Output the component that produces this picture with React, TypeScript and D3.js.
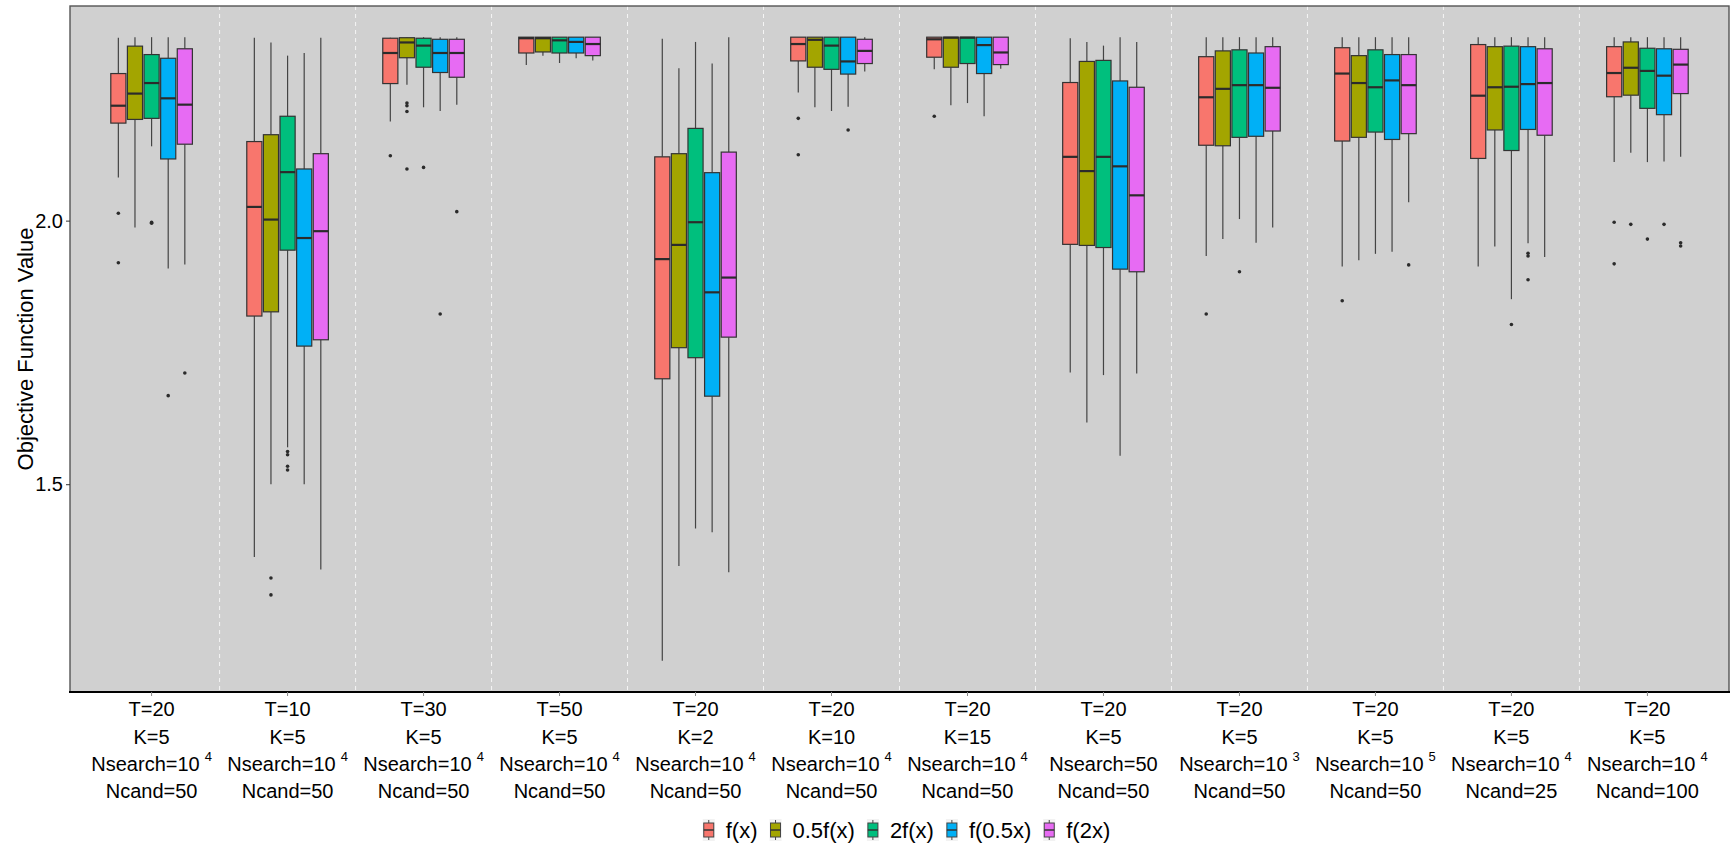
import { useEffect, useRef } from 'react'
import * as d3 from 'd3'

// x-axis groups (one per settings combination)
const groupT = [20, 10, 30, 50, 20, 20, 20, 20, 20, 20, 20, 20]
const groupK = [5, 5, 5, 5, 2, 10, 15, 5, 5, 5, 5, 5]
const nsearchBase = ['10', '10', '10', '10', '10', '10', '10', '50', '10', '10', '10', '10']
const nsearchExp = ['4', '4', '4', '4', '4', '4', '4', '', '3', '5', '4', '4']
const groupNcand = [50, 50, 50, 50, 50, 50, 50, 50, 50, 50, 25, 100]

const seriesNames = ['f(x)', '0.5f(x)', '2f(x)', 'f(0.5x)', 'f(2x)']
const seriesColors = ['#F8766D', '#A3A500', '#00BF7D', '#00B0F6', '#E76BF3']

const yTicks = [1.5, 2.0]

// box stats per group: [lower whisker, q1, median, q3, upper whisker]
const fxStats = [
  [2.082, 2.185, 2.218, 2.279, 2.347], [1.362, 1.819, 2.026, 2.150, 2.347], [2.188, 2.260, 2.318, 2.346, 2.347],
  [2.295, 2.318, 2.346, 2.348, 2.348], [1.165, 1.700, 1.927, 2.121, 2.345], [2.243, 2.303, 2.335, 2.348, 2.348],
  [2.287, 2.310, 2.344, 2.348, 2.348], [1.712, 1.955, 2.121, 2.262, 2.346], [1.933, 2.143, 2.234, 2.311, 2.348],
  [1.913, 2.151, 2.279, 2.328, 2.348], [1.913, 2.118, 2.237, 2.334, 2.348], [2.111, 2.235, 2.280, 2.330, 2.348],
]
const fxOut = [[2.014, 1.920], [], [2.123], [], [], [2.194, 2.125], [2.198], [], [1.823], [1.848], [], [1.997, 1.918]]

const halfFxStats = [
  [1.987, 2.192, 2.241, 2.331, 2.348], [1.500, 1.827, 2.002, 2.163, 2.338], [2.258, 2.309, 2.338, 2.347, 2.348],
  [2.313, 2.320, 2.346, 2.348, 2.348], [1.345, 1.759, 1.954, 2.127, 2.289], [2.215, 2.291, 2.343, 2.348, 2.348],
  [2.219, 2.291, 2.347, 2.348, 2.348], [1.617, 1.953, 2.094, 2.302, 2.339], [1.965, 2.142, 2.250, 2.322, 2.348],
  [1.925, 2.158, 2.261, 2.313, 2.348], [1.951, 2.172, 2.253, 2.330, 2.348], [2.129, 2.238, 2.290, 2.339, 2.348],
]
const halfFxOut = [[], [1.322, 1.290], [2.223, 2.218, 2.207, 2.098], [], [], [], [], [], [], [], [], [1.993]]

const twoFxStats = [
  [2.141, 2.194, 2.261, 2.315, 2.348], [1.570, 1.944, 2.092, 2.198, 2.313], [2.215, 2.291, 2.332, 2.346, 2.348],
  [2.299, 2.318, 2.342, 2.348, 2.348], [1.416, 1.740, 1.997, 2.175, 2.339], [2.208, 2.287, 2.332, 2.348, 2.348],
  [2.223, 2.298, 2.347, 2.348, 2.348], [1.707, 1.949, 2.121, 2.304, 2.332], [2.003, 2.158, 2.257, 2.324, 2.348],
  [1.937, 2.168, 2.253, 2.324, 2.348], [1.851, 2.133, 2.254, 2.331, 2.348], [2.111, 2.213, 2.284, 2.327, 2.348],
]
const twoFxOut = [[1.997, 1.995], [1.562, 1.556, 1.534, 1.527], [2.101], [], [], [], [], [], [1.903], [], [1.803], [1.965]]

const fHalfXStats = [
  [1.909, 2.117, 2.232, 2.308, 2.348], [1.500, 1.762, 1.967, 2.098, 2.318], [2.208, 2.281, 2.318, 2.344, 2.348],
  [2.308, 2.318, 2.339, 2.348, 2.348], [1.409, 1.667, 1.864, 2.091, 2.298], [2.216, 2.278, 2.302, 2.348, 2.348],
  [2.198, 2.279, 2.333, 2.348, 2.348], [1.554, 1.908, 2.103, 2.265, 2.348], [1.958, 2.160, 2.257, 2.318, 2.348],
  [1.941, 2.154, 2.266, 2.315, 2.348], [1.957, 2.173, 2.259, 2.330, 2.348], [2.112, 2.201, 2.275, 2.326, 2.348],
]
const fHalfXOut = [[1.668], [], [1.823], [], [], [2.172], [], [], [], [], [1.938, 1.933, 1.888], [1.993]]

const fTwoXStats = [
  [1.917, 2.145, 2.220, 2.326, 2.348], [1.338, 1.774, 1.980, 2.127, 2.347], [2.220, 2.272, 2.318, 2.344, 2.348],
  [2.304, 2.313, 2.335, 2.348, 2.348], [1.333, 1.779, 1.892, 2.130, 2.348], [2.283, 2.298, 2.322, 2.344, 2.348],
  [2.288, 2.296, 2.319, 2.348, 2.348], [1.710, 1.903, 2.048, 2.253, 2.339], [1.987, 2.170, 2.252, 2.330, 2.348],
  [2.035, 2.165, 2.257, 2.315, 2.348], [1.931, 2.162, 2.261, 2.326, 2.348], [2.121, 2.241, 2.296, 2.325, 2.348],
]
const fTwoXOut = [[1.711], [], [2.017], [], [], [], [], [], [], [1.916], [], [1.958, 1.952]]

const allStats = [fxStats, halfFxStats, twoFxStats, fHalfXStats, fTwoXStats]
const allOut = [fxOut, halfFxOut, twoFxOut, fHalfXOut, fTwoXOut]

const FONT = '"Liberation Sans", Arial, sans-serif'

function App() {
  const ref = useRef<SVGSVGElement>(null)

  useEffect(() => {
    const width = 1731, height = 850
    const left = 70, right = 1729, top = 6, bottom = 692

    const svg = d3.select(ref.current)
    svg.selectAll('*').remove()
    svg.attr('width', width).attr('height', height)

    // data range with ggplot-like 5% expansion
    const vals: number[] = []
    allStats.forEach(s => s.forEach(b => vals.push(b[0], b[4])))
    allOut.forEach(s => s.forEach(o => vals.push(...o)))
    const [mn, mx] = d3.extent(vals) as [number, number]
    const pad = (mx - mn) * 0.05

    const y = d3.scaleLinear().domain([mn - pad, mx + pad]).range([bottom, top])
    const groups = d3.range(groupT.length)
    const x = d3.scaleBand<number>().domain(groups).range([left, right]).paddingInner(0).paddingOuter(0.1)
    const step = x.step()
    const xs = d3.scaleBand<string>().domain(seriesNames).range([-0.3 * step, 0.3 * step]).paddingInner(0.09)
    const cx = (i: number) => (x(i) as number) + x.bandwidth() / 2

    // panel
    svg.append('rect')
      .attr('x', left).attr('y', top).attr('width', right - left).attr('height', bottom - top)
      .attr('fill', '#D0D0D0')

    // dashed separators between groups
    svg.append('g').selectAll('line')
      .data(groups.slice(1))
      .enter().append('line')
      .attr('x1', d => x(d) as number).attr('x2', d => x(d) as number)
      .attr('y1', top).attr('y2', bottom)
      .attr('stroke', '#F5F5F5').attr('stroke-width', 1)
      .attr('stroke-dasharray', '4,4')

    // boxes
    const boxes: { g: number, s: number, st: number[], out: number[] }[] = []
    allStats.forEach((series, s) => series.forEach((st, g) => boxes.push({ g, s, st, out: allOut[s][g] })))

    const bw = xs.bandwidth()
    const bx = (d: { g: number, s: number }) => cx(d.g) + (xs(seriesNames[d.s]) as number)

    const gb = svg.append('g')
    gb.selectAll('line.wlo').data(boxes).enter().append('line')
      .attr('x1', d => bx(d) + bw / 2).attr('x2', d => bx(d) + bw / 2)
      .attr('y1', d => y(d.st[0])).attr('y2', d => y(d.st[1]))
      .attr('stroke', '#444').attr('stroke-width', 1.2)
    gb.selectAll('line.whi').data(boxes).enter().append('line')
      .attr('x1', d => bx(d) + bw / 2).attr('x2', d => bx(d) + bw / 2)
      .attr('y1', d => y(d.st[3])).attr('y2', d => y(d.st[4]))
      .attr('stroke', '#444').attr('stroke-width', 1.2)
    gb.selectAll('rect').data(boxes).enter().append('rect')
      .attr('x', d => bx(d)).attr('width', bw)
      .attr('y', d => y(d.st[3])).attr('height', d => Math.max(0.5, y(d.st[1]) - y(d.st[3])))
      .attr('fill', d => seriesColors[d.s])
      .attr('stroke', '#333').attr('stroke-width', 1.2)
    gb.selectAll('line.med').data(boxes).enter().append('line')
      .attr('x1', d => bx(d)).attr('x2', d => bx(d) + bw)
      .attr('y1', d => y(d.st[2])).attr('y2', d => y(d.st[2]))
      .attr('stroke', '#2b2b2b').attr('stroke-width', 2.2)

    const pts: { g: number, s: number, v: number }[] = []
    boxes.forEach(b => b.out.forEach(v => pts.push({ g: b.g, s: b.s, v })))
    gb.selectAll('circle').data(pts).enter().append('circle')
      .attr('cx', d => bx(d) + bw / 2).attr('cy', d => y(d.v)).attr('r', 1.8)
      .attr('fill', '#2b2b2b')

    // panel border
    svg.append('rect')
      .attr('x', left).attr('y', top).attr('width', right - left).attr('height', bottom - top)
      .attr('fill', 'none').attr('stroke', '#555').attr('stroke-width', 1.4)
    svg.append('line')
      .attr('x1', left - 1).attr('x2', right + 1).attr('y1', bottom).attr('y2', bottom)
      .attr('stroke', 'black').attr('stroke-width', 2.2)

    // y axis
    const yAxis = svg.append('g')
      .attr('transform', `translate(${left},0)`)
      .call(d3.axisLeft(y).tickValues(yTicks).tickFormat(d3.format('.1f')).tickSize(4).tickPadding(3))
    yAxis.select('.domain').remove()
    yAxis.selectAll('line').attr('stroke', '#333')
    yAxis.selectAll('text').style('font', `20px ${FONT}`).attr('fill', 'black')

    svg.append('text')
      .attr('transform', `translate(33,${(top + bottom) / 2})rotate(-90)`)
      .style('text-anchor', 'middle')
      .style('font', `22px ${FONT}`)
      .attr('fill', 'black')
      .text('Objective Function Value')

    // x axis ticks + multi-line labels
    svg.append('g').selectAll('line')
      .data(groups).enter().append('line')
      .attr('x1', d => cx(d)).attr('x2', d => cx(d))
      .attr('y1', bottom).attr('y2', bottom + 4)
      .attr('stroke', '#888').attr('stroke-width', 1)

    const lab = svg.append('g').selectAll('g')
      .data(groups).enter().append('g')
      .attr('transform', d => `translate(${cx(d)},0)`)
      .style('font', `20px ${FONT}`)
      .attr('fill', 'black')
      .style('text-anchor', 'middle')
    lab.append('text').attr('y', 716).text(d => `T=${groupT[d]}`)
    lab.append('text').attr('y', 744).text(d => `K=${groupK[d]}`)
    const ns = lab.append('text').attr('y', 771)
    ns.append('tspan').text(d => `Nsearch=${nsearchBase[d]}`)
    ns.filter(d => nsearchExp[d] !== '').append('tspan')
      .attr('dx', 5).attr('dy', -10).style('font-size', '13px')
      .text(d => nsearchExp[d])
    lab.append('text').attr('y', 798).text(d => `Ncand=${groupNcand[d]}`)

    // legend
    const legend = svg.append('g')
    let lx = 0
    const gap = 12
    const items: { g: any, w: number }[] = []
    seriesNames.forEach((name, i) => {
      const g = legend.append('g')
      g.append('rect').attr('x', 0).attr('y', -11).attr('width', 12).attr('height', 22).attr('fill', '#F2F2F2')
      g.append('line').attr('x1', 6).attr('x2', 6).attr('y1', -10).attr('y2', 10).attr('stroke', '#444').attr('stroke-width', 1)
      g.append('rect').attr('x', 1).attr('y', -7).attr('width', 10).attr('height', 14)
        .attr('fill', seriesColors[i]).attr('stroke', '#444').attr('stroke-width', 1)
      g.append('line').attr('x1', 1).attr('x2', 11).attr('y1', 0).attr('y2', 0).attr('stroke', '#333').attr('stroke-width', 1.5)
      const t = g.append('text').attr('x', 23).attr('y', 8)
        .style('font', `22px ${FONT}`).attr('fill', 'black').text(name)
      const tw = (t.node() as SVGTextElement).getComputedTextLength()
      items.push({ g, w: 23 + tw })
    })
    items.forEach(it => {
      it.g.attr('transform', `translate(${lx},0)`)
      lx += it.w + gap
    })
    const total = lx - gap
    legend.attr('transform', `translate(${(left + right) / 2 - total / 2 + 7},830)`)
  }, [])

  return (
    <svg ref={ref} style={{ position: 'absolute', left: 0, top: 0, display: 'block', background: 'white' }} />
  )
}

export default App
